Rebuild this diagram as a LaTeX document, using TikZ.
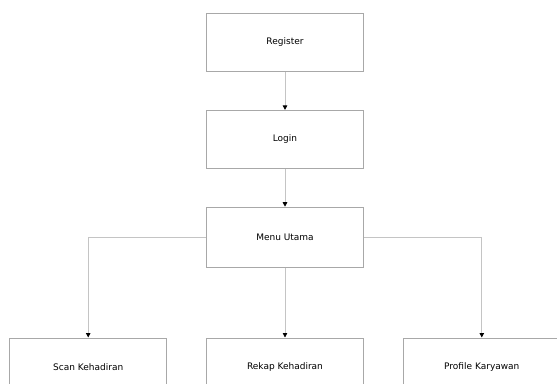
\documentclass[tikz,border=0pt]{standalone}
\usepackage{fontspec}
\setmainfont{DejaVu Sans}
\usetikzlibrary{arrows.meta,positioning}
\definecolor{boxEdge}{HTML}{A8A8A8}
\definecolor{linkLine}{HTML}{C4C4C4}

\begin{document}
\begin{tikzpicture}[x=1pt,y=-1pt,>={Triangle[width=4.5pt,length=4.5pt,color=black]},
  menubox/.style={draw=boxEdge,line width=0.8pt,minimum width=157pt,minimum height=58pt,
    inner sep=0pt,font=\fontsize{9}{11}\selectfont},
  link/.style={->,linkLine,line width=0.8pt}]
  \useasboundingbox (0,0) rectangle (557,383);
  \clip (0,0) rectangle (557,383);
  % main chain
  \node[menubox] (register) at (285,42.5) {Register};
  \node[menubox,below=38pt of register] (login) {Login};
  \node[menubox,below=38pt of login,minimum height=60pt] (menu) {Menu Utama};
  % sub menus
  \node[menubox,below=70pt of menu] (rekap) {Rekap Kehadiran};
  \node[menubox,left=39pt of rekap] (scan) {Scan Kehadiran};
  \node[menubox,right=39pt of rekap] (profile) {Profile Karyawan};
  \draw[link] (register) -- (login);
  \draw[link] (login) -- (menu);
  \draw[link] (menu.west) -| (scan.north);
  \draw[link] (menu) -- (rekap);
  \draw[link] (menu.east) -| (profile.north);
\end{tikzpicture}
\end{document}
